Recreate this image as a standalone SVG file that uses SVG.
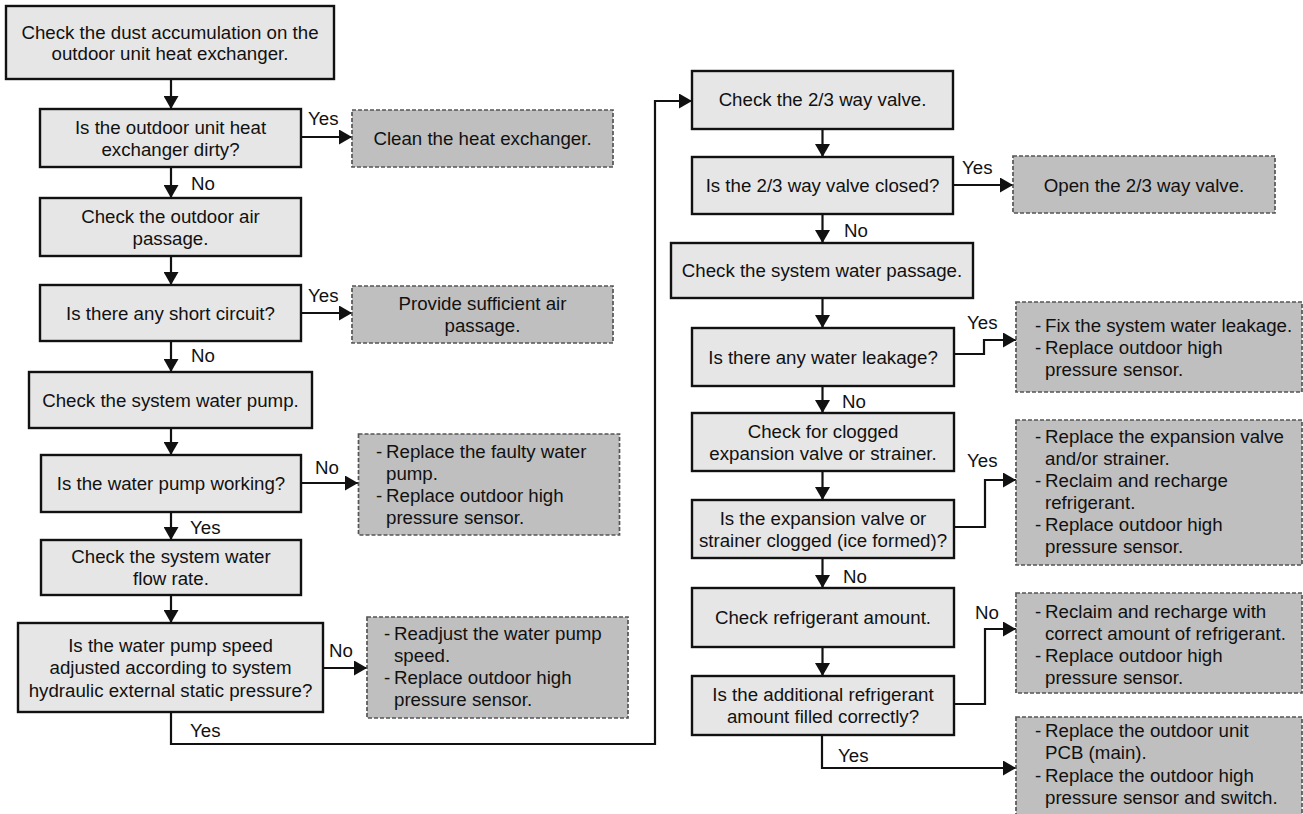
<svg xmlns="http://www.w3.org/2000/svg" width="1303" height="814" viewBox="0 0 1303 814">
<style>
text{font-family:"Liberation Sans",Arial,sans-serif;font-size:18.7px;fill:#111}
.c{text-anchor:middle}
.box{fill:#e6e6e6;stroke:#111;stroke-width:2.4}
.act{fill:#bfbfbf;stroke:#555;stroke-width:1.7;stroke-dasharray:4 2}
.ln{fill:none;stroke:#111;stroke-width:2.2}
.ar{marker-end:url(#ah)}
</style>
<defs>
<marker id="ah" viewBox="0 0 13 15" refX="13" refY="7.5" markerWidth="13" markerHeight="15" markerUnits="userSpaceOnUse" orient="auto">
<path d="M0,0 L13,7.5 L0,15 z" fill="#111"/>
</marker>
</defs>
<rect width="1303" height="814" fill="#fff"/>
<g id="connectors">
<line class="ln ar" x1="171" y1="79" x2="171" y2="109"/>
<line class="ln ar" x1="301" y1="137" x2="352" y2="137"/>
<line class="ln ar" x1="171" y1="167" x2="171" y2="198"/>
<line class="ln ar" x1="171" y1="256" x2="171" y2="285"/>
<line class="ln ar" x1="301" y1="313" x2="352" y2="313"/>
<line class="ln ar" x1="171" y1="341" x2="171" y2="372"/>
<line class="ln ar" x1="171" y1="428" x2="171" y2="455"/>
<line class="ln ar" x1="301" y1="483" x2="358" y2="483"/>
<line class="ln ar" x1="171" y1="512" x2="171" y2="540"/>
<line class="ln ar" x1="171" y1="595" x2="171" y2="623"/>
<line class="ln ar" x1="323" y1="668" x2="367" y2="668"/>
<polyline class="ln ar" points="171,712 171,744 655,744 655,101 692,101"/>
<line class="ln ar" x1="822.5" y1="129" x2="822.5" y2="157"/>
<line class="ln ar" x1="953" y1="185" x2="1013" y2="185"/>
<line class="ln ar" x1="822.5" y1="214" x2="822.5" y2="243"/>
<line class="ln ar" x1="822.5" y1="298" x2="822.5" y2="328"/>
<polyline class="ln ar" points="954,354 984,354 984,340 1016,340"/>
<line class="ln ar" x1="822.5" y1="386" x2="822.5" y2="413"/>
<line class="ln ar" x1="822.5" y1="471" x2="822.5" y2="500"/>
<polyline class="ln ar" points="954,527 985,527 985,480 1016,480"/>
<line class="ln ar" x1="822.5" y1="558" x2="822.5" y2="588"/>
<line class="ln ar" x1="822.5" y1="647" x2="822.5" y2="676"/>
<polyline class="ln ar" points="954,704 985,704 985,629 1016,629"/>
<polyline class="ln ar" points="822,735 822,768 1016,768"/>
<text x="308" y="124.5">Yes</text>
<text x="191" y="189.5">No</text>
<text x="308" y="301.5">Yes</text>
<text x="191" y="361.5">No</text>
<text x="315" y="473.5">No</text>
<text x="190" y="533.5">Yes</text>
<text x="329" y="656.5">No</text>
<text x="190" y="736.5">Yes</text>
<text x="962" y="173.5">Yes</text>
<text x="844" y="236.5">No</text>
<text x="967" y="328.5">Yes</text>
<text x="842" y="408">No</text>
<text x="967" y="466.5">Yes</text>
<text x="843" y="583">No</text>
<text x="975" y="619">No</text>
<text x="838" y="761.5">Yes</text>
</g>
<g id="b1"><rect class="box" x="6" y="6" width="328" height="73"/>
<text class="c" x="170" y="38.5">Check the dust accumulation on the</text>
<text class="c" x="170" y="60">outdoor unit heat exchanger.</text></g>
<g id="b2"><rect class="box" x="40" y="109" width="261" height="58"/>
<text class="c" x="170.5" y="133.5">Is the outdoor unit heat</text>
<text class="c" x="170.5" y="155.5">exchanger dirty?</text></g>
<g id="a1"><rect class="act" x="352" y="110" width="261" height="57"/>
<text class="c" x="482.5" y="145">Clean the heat exchanger.</text></g>
<g id="b3"><rect class="box" x="40" y="198" width="261" height="58"/>
<text class="c" x="170.5" y="222.5">Check the outdoor air</text>
<text class="c" x="170.5" y="244.5">passage.</text></g>
<g id="b4"><rect class="box" x="40" y="285" width="261" height="56"/>
<text class="c" x="170.5" y="319.5">Is there any short circuit?</text></g>
<g id="a2"><rect class="act" x="352" y="286" width="261" height="57"/>
<text class="c" x="482.5" y="310">Provide sufficient air</text>
<text class="c" x="482.5" y="332">passage.</text></g>
<g id="b5"><rect class="box" x="29" y="372" width="283" height="56"/>
<text class="c" x="170.5" y="406.5">Check the system water pump.</text></g>
<g id="b6"><rect class="box" x="41" y="455" width="260" height="57"/>
<text class="c" x="171" y="490">Is the water pump working?</text></g>
<g id="a3"><rect class="act" x="358.5" y="434" width="261" height="101"/>
<text x="376" y="458">-</text><text x="386" y="458">Replace the faulty water</text>
<text x="386" y="480">pump.</text>
<text x="376" y="502">-</text><text x="386" y="502">Replace outdoor high</text>
<text x="386" y="524">pressure sensor.</text></g>
<g id="b7"><rect class="box" x="41" y="540" width="260" height="55"/>
<text class="c" x="171" y="563">Check the system water</text>
<text class="c" x="171" y="585">flow rate.</text></g>
<g id="b8"><rect class="box" x="18" y="623" width="305" height="89"/>
<text class="c" x="170.5" y="651.5">Is the water pump speed</text>
<text class="c" x="170.5" y="674">adjusted according to system</text>
<text class="c" x="170.5" y="696.5">hydraulic external static pressure?</text></g>
<g id="a4"><rect class="act" x="367" y="617" width="261" height="101"/>
<text x="384" y="640">-</text><text x="394" y="640">Readjust the water pump</text>
<text x="394" y="662">speed.</text>
<text x="384" y="684">-</text><text x="394" y="684">Replace outdoor high</text>
<text x="394" y="706">pressure sensor.</text></g>
<g id="r1"><rect class="box" x="692" y="71" width="261" height="58"/>
<text class="c" x="822.5" y="106">Check the 2/3 way valve.</text></g>
<g id="r2"><rect class="box" x="692" y="157" width="261" height="57"/>
<text class="c" x="822.5" y="192">Is the 2/3 way valve closed?</text></g>
<g id="a5"><rect class="act" x="1013" y="156" width="262" height="57"/>
<text class="c" x="1144" y="191.5">Open the 2/3 way valve.</text></g>
<g id="r3"><rect class="box" x="671" y="243" width="302" height="55"/>
<text class="c" x="822" y="277">Check the system water passage.</text></g>
<g id="r4"><rect class="box" x="692" y="328" width="262" height="58"/>
<text class="c" x="823" y="363.5">Is there any water leakage?</text></g>
<g id="a6"><rect class="act" x="1016" y="302" width="286" height="90"/>
<text x="1035" y="331.5">-</text><text x="1045" y="331.5">Fix the system water leakage.</text>
<text x="1035" y="353.5">-</text><text x="1045" y="353.5">Replace outdoor high</text>
<text x="1045" y="375.5">pressure sensor.</text></g>
<g id="r5"><rect class="box" x="692" y="413" width="262" height="58"/>
<text class="c" x="823" y="438">Check for clogged</text>
<text class="c" x="823" y="460">expansion valve or strainer.</text></g>
<g id="r6"><rect class="box" x="692" y="500" width="262" height="58"/>
<text class="c" x="823" y="524.5">Is the expansion valve or</text>
<text class="c" x="823" y="546.5">strainer clogged (ice formed)?</text></g>
<g id="a7"><rect class="act" x="1016" y="420" width="286" height="145"/>
<text x="1035" y="442.5">-</text><text x="1045" y="442.5">Replace the expansion valve</text>
<text x="1045" y="464.5">and/or strainer.</text>
<text x="1035" y="486.5">-</text><text x="1045" y="486.5">Reclaim and recharge</text>
<text x="1045" y="508.5">refrigerant.</text>
<text x="1035" y="530.5">-</text><text x="1045" y="530.5">Replace outdoor high</text>
<text x="1045" y="552.5">pressure sensor.</text></g>
<g id="r7"><rect class="box" x="692" y="588" width="262" height="59"/>
<text class="c" x="823" y="623.5">Check refrigerant amount.</text></g>
<g id="r8"><rect class="box" x="692" y="676" width="262" height="59"/>
<text class="c" x="823" y="701">Is the additional refrigerant</text>
<text class="c" x="823" y="723">amount filled correctly?</text></g>
<g id="a8"><rect class="act" x="1016" y="593" width="286" height="100"/>
<text x="1035" y="617.5">-</text><text x="1045" y="617.5">Reclaim and recharge with</text>
<text x="1045" y="639.5">correct amount of refrigerant.</text>
<text x="1035" y="661.5">-</text><text x="1045" y="661.5">Replace outdoor high</text>
<text x="1045" y="683.5">pressure sensor.</text></g>
<g id="a9"><rect class="act" x="1016" y="717" width="286" height="100"/>
<text x="1035" y="736.5">-</text><text x="1045" y="736.5">Replace the outdoor unit</text>
<text x="1045" y="759">PCB (main).</text>
<text x="1035" y="781.5">-</text><text x="1045" y="781.5">Replace the outdoor high</text>
<text x="1045" y="804">pressure sensor and switch.</text></g>
</svg>
